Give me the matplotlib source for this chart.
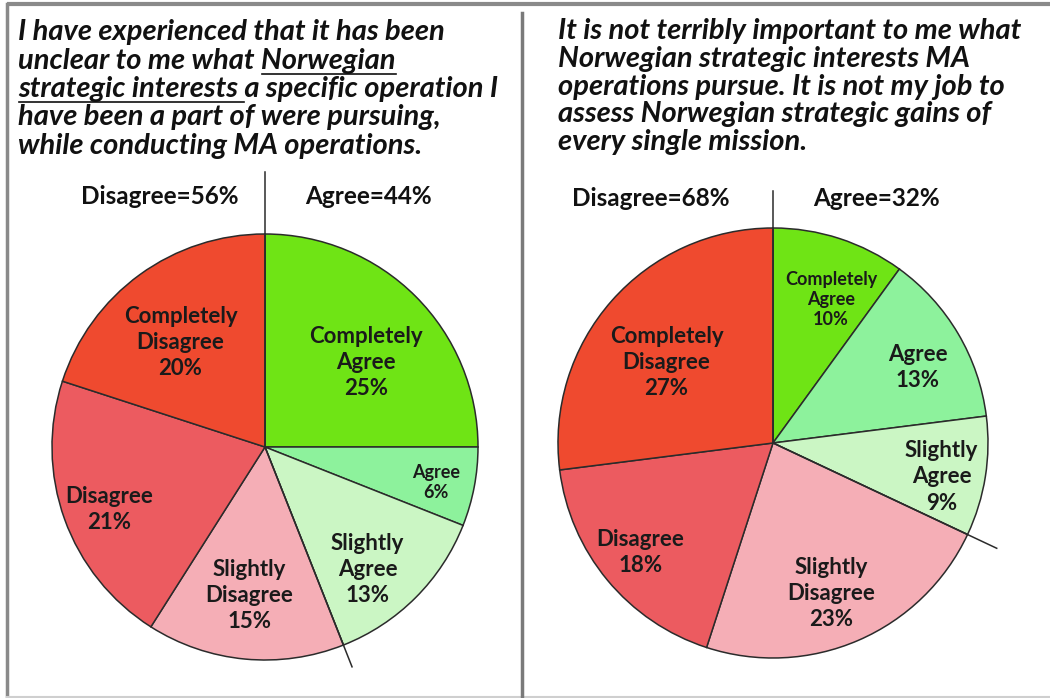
import matplotlib
matplotlib.use("Agg")
import matplotlib.pyplot as plt
import numpy as np

# Slice order: clockwise from 12 o'clock
categories = ["Completely\nAgree", "Agree", "Slightly\nAgree",
              "Slightly\nDisagree", "Disagree", "Completely\nDisagree"]
left_values = [25, 6, 13, 15, 21, 20]
right_values = [10, 13, 9, 23, 18, 27]

left_title = ["I have experienced that it has been",
              "unclear to me what Norwegian",
              "strategic interests a specific operation I",
              "have been a part of were pursuing,",
              "while conducting MA operations."]
right_title = ["It is not terribly important to me what",
               "Norwegian strategic interests MA",
               "operations pursue. It is not my job to",
               "assess Norwegian strategic gains of",
               "every single mission."]

colors = ["#6fe415", "#8df29c", "#cbf6c4", "#f5aeb6", "#ec5b60", "#ef4a2f"]
FONT = "Lato"
TITLE_SIZE = 21
W, H = 1050, 698

fig = plt.figure(figsize=(10.5, 6.98), dpi=100)
ax = fig.add_axes([0, 0, 1, 1])


def Y(y_img):
    return H - y_img


def draw_pie(values, cx, cy, r, label_r, label_dt, small, top_ext, bot_ext):
    wedges, _ = ax.pie(values, center=(cx, Y(cy)), radius=r, startangle=90,
                       counterclock=False, colors=colors,
                       wedgeprops=dict(edgecolor="#2b2b2b", linewidth=1.1))
    for w, lab, v, fr, dt, sm in zip(wedges, categories, values, label_r, label_dt, small):
        mid = np.deg2rad((w.theta1 + w.theta2) / 2 + dt)
        ax.text(cx + fr * r * np.cos(mid), Y(cy) + fr * r * np.sin(mid),
                f"{lab}\n{v}%", ha="center", va="center", fontsize=13 if sm else 16,
                fontweight="bold", family=FONT, color="#1a1a1a",
                linespacing=1.2 if sm else 1.3)
    # agree / disagree boundary lines
    agree_total = sum(values[:3])
    a = np.deg2rad(90 - 3.6 * agree_total)
    ax.plot([cx, cx], [Y(cy), Y(cy) + top_ext * r], color="#2b2b2b", lw=1.1)
    ax.plot([cx, cx + bot_ext * r * np.cos(a)], [Y(cy), Y(cy) + bot_ext * r * np.sin(a)],
            color="#2b2b2b", lw=1.1)
    return agree_total


def draw_title(lines, x, y0, pitch, underline=None):
    fig.canvas.draw()
    rend = fig.canvas.get_renderer()
    for i, line in enumerate(lines):
        ax.text(x, Y(y0 + i * pitch), line, ha="left", va="center", fontsize=TITLE_SIZE,
                fontweight="bold", fontstyle="italic", family=FONT, color="#111111")
    if underline:
        def width(s):
            if not s:
                return 0
            t = ax.text(x, 0, s, fontsize=TITLE_SIZE, fontweight="bold",
                        fontstyle="italic", family=FONT)
            wd = t.get_window_extent(rend).width
            t.remove()
            return wd
        for li, start, end in underline:
            x0 = x + width(lines[li][:start])
            x1 = x + width(lines[li][:end])
            yy = Y(y0 + li * pitch + 13)
            ax.plot([x0 + 1, x1], [yy, yy], color="#111111", lw=1.2)


agree_l = draw_pie(left_values, 265, 447, 213,
                   [0.62, 0.82, 0.75, 0.70, 0.79, 0.63], [-5, -1, -5, -0.6, 2, 3],
                   [False, True, False, False, False, False], 1.29, 1.11)
agree_r = draw_pie(right_values, 773, 443, 215,
                   [0.72, 0.76, 0.80, 0.75, 0.80, 0.62], [-4, -3, -2.4, -2.4, 0, 4.4],
                   [True, False, False, False, False, False], 1.17, 1.15)

ax.set_xlim(0, W)
ax.set_ylim(0, H)
ax.set_aspect("auto")
ax.axis("off")

ul = [(1, len("unclear to me what "), len(left_title[1])),
      (2, 0, len("strategic interests "))]
draw_title(left_title, 18, 32, 28.5, ul)
draw_title(right_title, 558, 31, 27.8)

for txt, x, y in [(f"Disagree={100 - agree_l}%", 160, 197), (f"Agree={agree_l}%", 368, 197),
                  (f"Disagree={100 - agree_r}%", 651, 199), (f"Agree={agree_r}%", 876, 199)]:
    ax.text(x, Y(y), txt, ha="center", va="center", fontsize=17.5, fontweight="bold",
            family=FONT, color="#111111")

# frame and divider
ax.plot([7, W], [Y(4), Y(4)], color="#8a8a8a", lw=3, solid_capstyle="butt")
ax.plot([7, 7], [Y(4), Y(697)], color="#8a8a8a", lw=2.5)
ax.plot([7, W], [Y(697), Y(697)], color="#cfcfcf", lw=1.5)
ax.plot([522, 522], [Y(13), Y(697)], color="#7a7a7a", lw=2.5)

fig.savefig("out.png", dpi=100)
